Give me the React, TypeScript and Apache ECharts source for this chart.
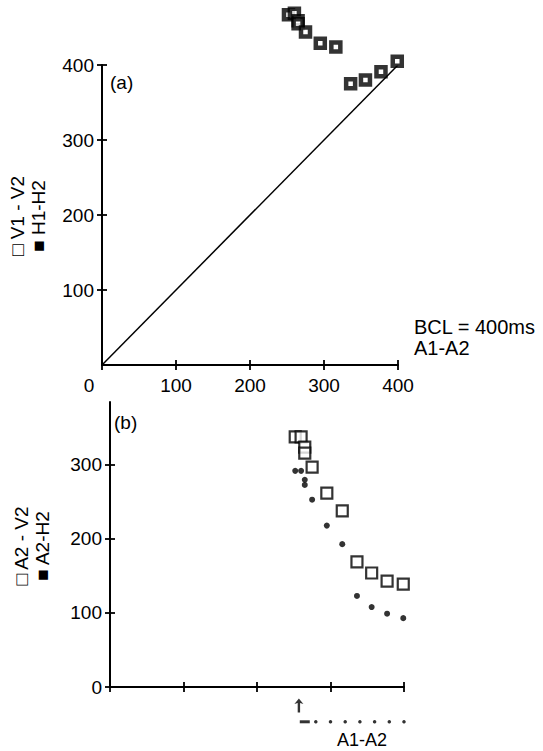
import React, { useEffect, useRef } from "react";
import * as echarts from "echarts";

// A1-A2 coupling intervals (ms)
const a1a2 = [252, 260, 265, 265, 275, 295, 316, 336, 356, 377, 399];
// panel (a): V1-V2 (ms)
const v1v2 = [467, 469, 459, 455, 444, 429, 424, 375, 380, 391, 405];
// panel (b): A2-V2 and A2-H2 (ms)
const a2v2 = [338, 338, 324, 316, 297, 262, 238, 169, 154, 143, 139];
const a2h2 = [292, 292, 280, 273, 253, 218, 193, 123, 108, 99, 93];
// stimulation marks below panel (b)
const stimDots = [280, 300, 320, 340, 360, 380, 400];
const stimDash = [265];
const stimLevel = -47;
const arrowAt = [257];
const arrowLevel = -25;
const identity = [[0, 0], [400, 400]];

const bottomYTicks = [0, 100, 200, 300];

const FONT = "Liberation Sans";

export default function App() {
  const ref = useRef<HTMLDivElement>(null);
  useEffect(() => {
    if (!ref.current) return;
    const chart = echarts.init(ref.current, null, { renderer: "svg" });
    const lineStyle = { color: "#000", width: 2 };
    const mainAxisCommon = {
      axisLine: { show: true, onZero: false, lineStyle },
      axisTick: { show: true, inside: false, length: 5, lineStyle: { color: "#000", width: 1.8 } },
      splitLine: { show: false },
    };
    const innerAxisCommon = {
      axisLine: { show: false, onZero: false },
      axisTick: { show: true, inside: true, length: 5, lineStyle: { color: "#000", width: 1.8 } },
      axisLabel: { show: false },
      splitLine: { show: false },
    };
    const labelStyle = { color: "#000", fontFamily: FONT, fontSize: 19 };

    const option: any = {
      animation: false,
      backgroundColor: "#fff",
      grid: [
        { left: 102, top: 65, width: 296, height: 300 },
        { left: 102, top: 65, width: 296, height: 300 },
        { left: 110, top: 402, width: 294, height: 285 },
        { left: 110, top: 402, width: 294, height: 285 },
      ],
      xAxis: [
        {
          gridIndex: 0, type: "value", min: 0, max: 400, interval: 100,
          ...mainAxisCommon,
          axisLabel: {
            ...labelStyle, margin: 11,
            formatter: (v: number) => (v === 0 ? "{z|0}" : String(v)),
            rich: { z: { ...labelStyle, padding: [0, 26, 0, 0] } },
          },
        },
        { gridIndex: 1, type: "value", min: 0, max: 400, interval: 100, ...innerAxisCommon },
        {
          gridIndex: 2, type: "value", min: 0, max: 400, interval: 100,
          ...mainAxisCommon, axisLabel: { show: false },
        },
        { gridIndex: 3, type: "value", min: 0, max: 400, interval: 100, ...innerAxisCommon },
      ],
      yAxis: [
        {
          gridIndex: 0, type: "value", min: 0, max: 400, interval: 100,
          ...mainAxisCommon,
          axisLabel: { ...labelStyle, margin: 8, showMinLabel: false },
        },
        { gridIndex: 1, type: "value", min: 0, max: 400, interval: 100, ...innerAxisCommon },
        {
          gridIndex: 2, type: "value", min: 0, max: 385,
          ...mainAxisCommon,
          axisTick: { ...mainAxisCommon.axisTick, customValues: bottomYTicks },
          axisLabel: { ...labelStyle, margin: 8, customValues: bottomYTicks },
        },
        {
          gridIndex: 3, type: "value", min: 0, max: 385, ...innerAxisCommon,
          axisTick: { ...innerAxisCommon.axisTick, customValues: bottomYTicks },
        },
      ],
      series: [
        {
          type: "line", xAxisIndex: 0, yAxisIndex: 0, data: identity,
          symbol: "none", lineStyle: { color: "#000", width: 1.5 }, z: 1,
        },
        {
          name: "V1-V2", type: "scatter", xAxisIndex: 0, yAxisIndex: 0, clip: false,
          data: a1a2.map((x, i) => [x, v1v2[i]]),
          symbol: "rect", symbolSize: 9,
          itemStyle: { color: "#fff", borderColor: "#000", borderWidth: 4.5 }, z: 3,
        },
        {
          name: "A2-V2", type: "scatter", xAxisIndex: 2, yAxisIndex: 2, clip: false,
          data: a1a2.map((x, i) => [x, a2v2[i]]),
          symbol: "rect", symbolSize: 11,
          itemStyle: { color: "#fff", borderColor: "#000", borderWidth: 2.2 }, z: 3,
        },
        {
          name: "A2-H2", type: "scatter", xAxisIndex: 2, yAxisIndex: 2, clip: false,
          data: a1a2.map((x, i) => [x, a2h2[i]]),
          symbol: "circle", symbolSize: 6,
          itemStyle: { color: "#000" }, z: 4,
        },
        {
          type: "scatter", xAxisIndex: 2, yAxisIndex: 2, clip: false,
          data: stimDots.map((x) => [x, stimLevel]),
          symbol: "circle", symbolSize: 3.5, itemStyle: { color: "#000" },
        },
        {
          type: "scatter", xAxisIndex: 2, yAxisIndex: 2, clip: false,
          data: stimDash.map((x) => [x, stimLevel]),
          symbol: "rect", symbolSize: [10, 3], itemStyle: { color: "#000" },
        },
        {
          type: "scatter", xAxisIndex: 2, yAxisIndex: 2, clip: false,
          data: arrowAt.map((x) => [x, arrowLevel]),
          symbol: "path://M4,0 L8.5,5.5 L5.2,4.6 L5.2,14 L2.8,14 L2.8,4.6 L-0.5,5.5 Z",
          symbolSize: [9, 14], itemStyle: { color: "#000" },
        },
      ],
      graphic: [
        { type: "text", x: 110, y: 73, style: { text: "(a)", fill: "#000", font: `19px '${FONT}'`, verticalAlign: "top" } },
        { type: "text", x: 114, y: 413, style: { text: "(b)", fill: "#000", font: `19px '${FONT}'`, verticalAlign: "top" } },
        { type: "text", x: 414, y: 317, style: { text: "BCL = 400ms", fill: "#000", font: `20px '${FONT}'`, verticalAlign: "top" } },
        { type: "text", x: 414, y: 338, style: { text: "A1-A2", fill: "#000", font: `20px '${FONT}'`, verticalAlign: "top" } },
        { type: "text", x: 362, y: 731, style: { text: "A1-A2", fill: "#000", font: `18px '${FONT}'`, align: "center", verticalAlign: "top" } },
        {
          type: "text", x: 28, y: 216, rotation: Math.PI / 2,
          style: { text: "□ V1 - V2\n■ H1-H2", fill: "#000", font: `19px '${FONT}'`, align: "center", verticalAlign: "middle", lineHeight: 21 },
        },
        {
          type: "text", x: 32, y: 546, rotation: Math.PI / 2,
          style: { text: "□ A2 - V2\n■ A2-H2", fill: "#000", font: `19px '${FONT}'`, align: "center", verticalAlign: "middle", lineHeight: 21 },
        },
      ],
    };
    chart.setOption(option);
    return () => chart.dispose();
  }, []);
  return (
    <div
      ref={ref}
      style={{ position: "fixed", left: 0, top: 0, width: 543, height: 751, background: "#fff" }}
    />
  );
}
